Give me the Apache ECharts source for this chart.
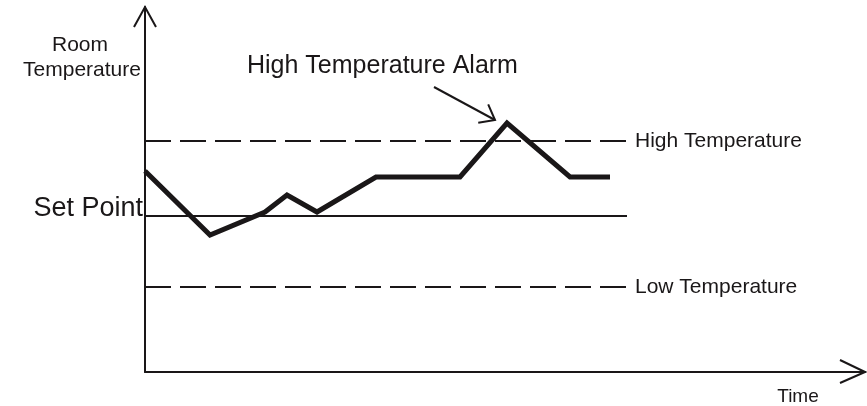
<!DOCTYPE html>
<html><head><meta charset="utf-8">
<script src="https://cdn.jsdelivr.net/npm/echarts@6/dist/echarts.min.js"></script>
<style>html,body{margin:0;padding:0;background:#fff}#c{width:867px;height:406px}</style>
</head><body><div id="c"></div>
<script>
// ---- data ----
const timeValues = [0, 65, 120, 142, 172, 231, 315, 362, 425, 465];
const roomTemp   = [201, 137, 160, 177, 160, 195, 195, 249, 195, 195];
const highTemp = 231;
const setPoint = 156;
const lowTemp = 85;
const refLineStart = 0;
const refLineEnd = 482;
const xMax = 720;
const yMax = 365;
const alarmArrow = [[289, 285], [350, 252]];
const yAxisTitle = ['Room', 'Temperature'];
const xAxisTitle = 'Time';
const setPointLabel = 'Set Point';
const highLabel = 'High Temperature';
const lowLabel = 'Low Temperature';
const alarmLabel = 'High Temperature Alarm';

const INK = '#1a1718';
const FONT = '"Liberation Sans", Arial, sans-serif';

const chart = echarts.init(document.getElementById('c'), null, {renderer: 'canvas'});

function refLine(name, y, dashed, width) {
  return {
    name: name, type: 'line', silent: true, symbol: 'none',
    data: [[refLineStart, y], [refLineEnd, y]],
    lineStyle: {color: INK, width: width, type: dashed ? [26, 9] : 'solid'},
    z: 2
  };
}

const highSeries = refLine(highLabel, highTemp, true, 2.2);
highSeries.endLabel = {show: true, formatter: highLabel, distance: 8, color: INK, fontSize: 21, fontFamily: FONT};
const lowSeries = refLine(lowLabel, lowTemp, true, 2.2);
lowSeries.endLabel = {show: true, formatter: lowLabel, distance: 8, color: INK, fontSize: 21, fontFamily: FONT};
const setSeries = refLine(setPointLabel, setPoint, false, 2);

const option = {
  animation: false,
  backgroundColor: '#fff',
  grid: {left: 145, right: 2, top: 7, bottom: 34},
  xAxis: {
    type: 'value', min: 0, max: xMax,
    axisLine: {show: true, onZero: false, lineStyle: {color: INK, width: 2}},
    axisTick: {show: false}, axisLabel: {show: false}, splitLine: {show: false}
  },
  yAxis: {
    type: 'value', min: 0, max: yMax,
    axisLine: {show: true, onZero: false, lineStyle: {color: INK, width: 2}},
    axisTick: {show: false}, axisLabel: {show: false}, splitLine: {show: false}
  },
  series: [
    highSeries, setSeries, lowSeries,
    {
      name: 'Room Temperature', type: 'line', symbol: 'none', silent: true,
      data: timeValues.map((t, i) => [t, roomTemp[i]]),
      lineStyle: {color: INK, width: 5, join: 'miter', cap: 'butt'},
      z: 3,
      markLine: {
        silent: true, symbol: 'none',
        label: {show: false},
        lineStyle: {color: INK, width: 2, type: 'solid'},
        data: [[{coord: alarmArrow[0]}, {coord: alarmArrow[1]}]]
      }
    }
  ]
};
chart.setOption(option);

// decorations computed from the library's coordinate system
const px = p => chart.convertToPixel({gridIndex: 0}, p);
const yTip = px([0, yMax]);
const xTip = px([xMax, 0]);
const aBase = px(alarmArrow[0]);
const aTip = px(alarmArrow[1]);
const ang = Math.atan2(aTip[1] - aBase[1], aTip[0] - aBase[0]) + Math.PI;
const armLen = 17, spread = 38 * Math.PI / 180;
const arm = s => [aTip[0] + armLen * Math.cos(ang + s), aTip[1] + armLen * Math.sin(ang + s)];
const spOrigin = px([0, setPoint]);

const txt = (x, y, text, size, align) => ({
  type: 'text', silent: true,
  style: {x: x, y: y, text: text, fill: INK, font: size + 'px ' + FONT, textAlign: align || 'left', textVerticalAlign: 'middle'}
});

chart.setOption({
  graphic: [
    {type: 'polyline', silent: true, shape: {points: [[yTip[0] - 11, yTip[1] + 20], yTip, [yTip[0] + 11, yTip[1] + 20]]},
      style: {stroke: INK, lineWidth: 2, fill: null}},
    {type: 'polyline', silent: true, shape: {points: [[xTip[0] - 25, xTip[1] - 12], xTip, [xTip[0] - 25, xTip[1] + 11]]},
      style: {stroke: INK, lineWidth: 2, fill: null}},
    {type: 'polyline', silent: true, shape: {points: [arm(spread), aTip, arm(-spread)]},
      style: {stroke: INK, lineWidth: 2, fill: null}},
    txt(80, 45, yAxisTitle[0], 21, 'center'),
    txt(82, 70, yAxisTitle[1], 21, 'center'),
    txt(spOrigin[0] - 2, spOrigin[1] - 7, setPointLabel, 27, 'right'),
    txt(247, 66, alarmLabel, 25, 'left'),
    txt(798, 397, xAxisTitle, 19, 'center')
  ]
});
</script>
</body></html>
